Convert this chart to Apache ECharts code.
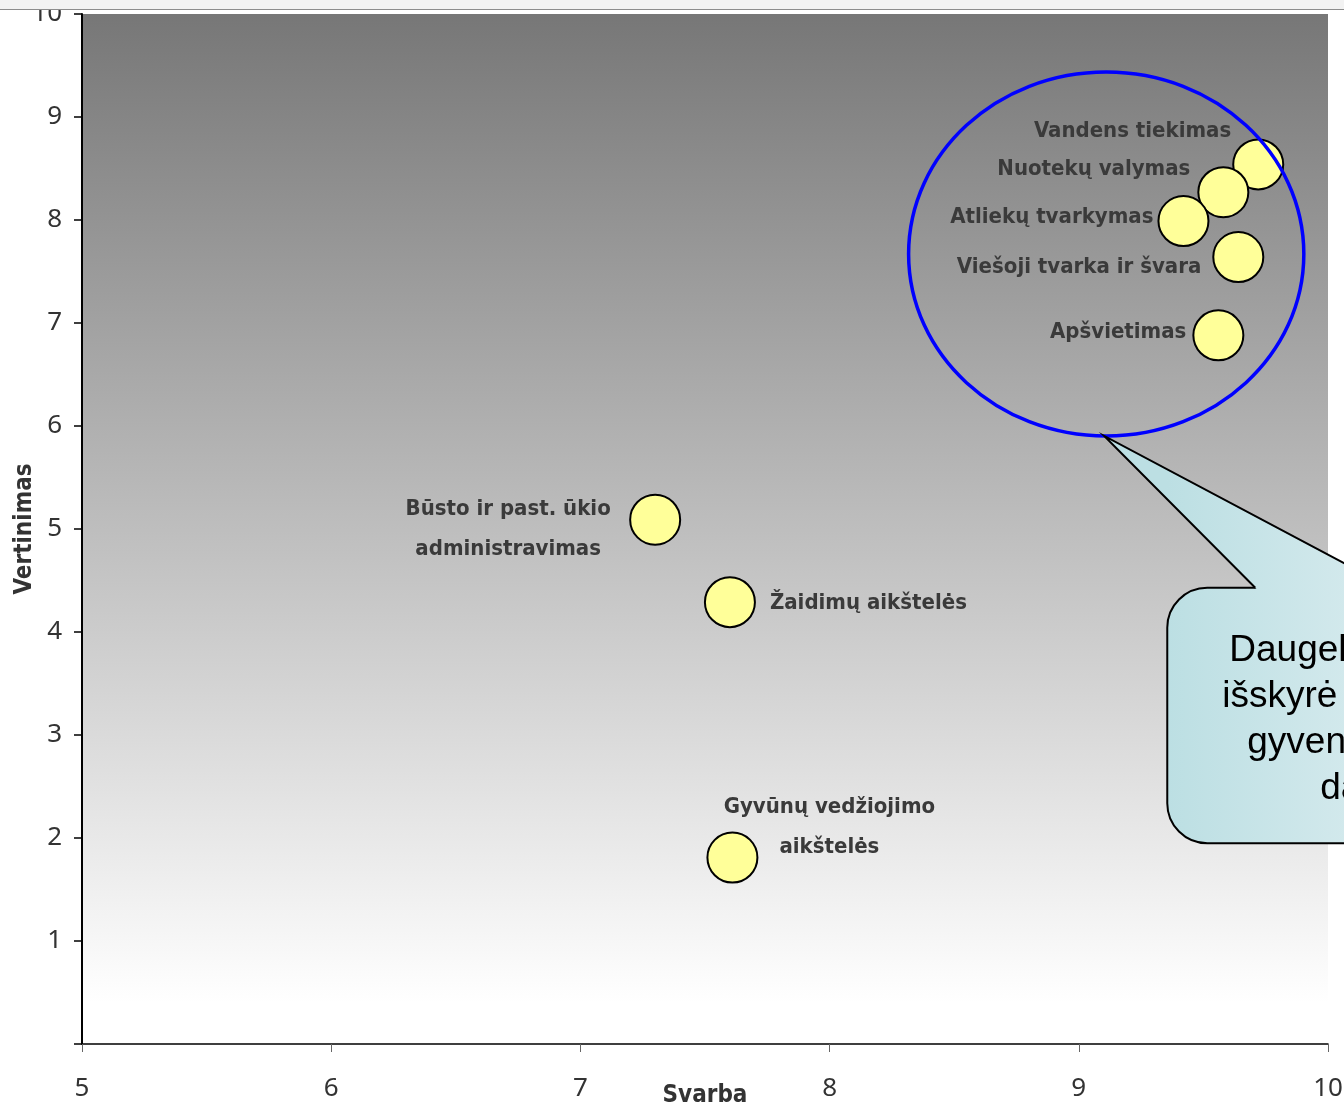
<!DOCTYPE html>
<html>
<head>
<meta charset="utf-8">
<script src="https://cdn.jsdelivr.net/npm/echarts@6/dist/echarts.min.js"></script>
<style>
html,body{margin:0;padding:0;background:#fff;}
#chart{width:1344px;height:1109px;}
</style>
</head>
<body>
<div id="chart"></div>
<script>
// ---- data ----
const names = ['Vandens tiekimas','Nuotekų valymas','Atliekų tvarkymas','Viešoji tvarka ir švara','Apšvietimas','Būsto ir past. ūkio\nadministravimas','Žaidimų aikštelės','Gyvūnų vedžiojimo\naikštelės'];
const svarba = [9.72, 9.58, 9.42, 9.64, 9.56, 7.30, 7.60, 7.61];
const vertinimas = [8.54, 8.27, 7.99, 7.64, 6.88, 5.09, 4.29, 1.81];
const xTicks = [5, 6, 7, 8, 9, 10];
const yTicks = [0, 1, 2, 3, 4, 5, 6, 7, 8, 9, 10];
const calloutLines = ['Daugelis gyventojų', 'išskyrė šias sritis', 'gyvenamosios aplinkos', 'dalis'];

// label placement (style only)
const labelLayout = [
  {align:'right', offset:[-27,-33]},
  {align:'right', offset:[-33,-23]},
  {align:'right', offset:[-30,-4]},
  {align:'right', offset:[-37,10]},
  {align:'right', offset:[-32,-3]},
  {align:'center', offset:[-147,10]},
  {align:'left', offset:[40,1]},
  {align:'center', offset:[97,-30]}
];

const labelFont = 'DejaVu Sans Condensed, DejaVu Sans, sans-serif';
const data = names.map((n, i) => ({
  name: n,
  value: [svarba[i], vertinimas[i]],
  label: {
    show: true, position: 'inside', formatter: n,
    align: labelLayout[i].align, verticalAlign: 'middle',
    offset: labelLayout[i].offset,
    fontFamily: labelFont, fontWeight: 'bold', fontSize: 22, color: '#3a3a3a', lineHeight: 40
  }
}));

const chart = echarts.init(document.getElementById('chart'), null, {renderer: 'canvas'});
chart.setOption({
  animation: false,
  backgroundColor: '#ffffff',
  grid: {
    left: 82, top: 14, right: 16, bottom: 65, show: true, borderWidth: 0,
    containLabel: false, outerBoundsMode: 'none',
    backgroundColor: new echarts.graphic.LinearGradient(0, 0, 0, 1, [
      {offset: 0, color: '#777777'},
      {offset: 0.96, color: '#ffffff'},
      {offset: 1, color: '#ffffff'}
    ])
  },
  xAxis: {
    type: 'value', min: xTicks[0], max: xTicks[xTicks.length - 1], interval: 1,
    name: 'Svarba', nameLocation: 'middle', nameGap: 40, nameMoveOverlap: false,
    nameTextStyle: {fontFamily: labelFont, fontWeight: 'bold', fontSize: 24, color: '#333'},
    axisLine: {show: true, onZero: false, lineStyle: {color: '#000', width: 1.5}},
    axisTick: {show: true, length: 8, lineStyle: {color: '#666', width: 1}},
    axisLabel: {fontFamily: 'Noto Sans', fontSize: 26, color: '#333', margin: 32},
    splitLine: {show: false}
  },
  yAxis: {
    type: 'value', min: yTicks[0], max: yTicks[yTicks.length - 1], interval: 1,
    name: 'Vertinimas', nameLocation: 'middle', nameGap: 45, nameMoveOverlap: false,
    nameTextStyle: {fontFamily: labelFont, fontWeight: 'bold', fontSize: 24, color: '#333'},
    axisLine: {show: true, onZero: false, lineStyle: {color: '#000', width: 2}},
    axisTick: {show: true, length: 8, lineStyle: {color: '#000', width: 1.5}},
    axisLabel: {fontFamily: 'Noto Sans', fontSize: 26, color: '#333', margin: 20,
      formatter: v => (v === 0 ? '' : String(v))},
    splitLine: {show: false}
  },
  series: [{
    type: 'scatter',
    symbol: 'circle', symbolSize: 50,
    itemStyle: {color: '#ffff99', borderColor: '#000', borderWidth: 2, opacity: 1},
    z: 3,
    data: data
  }]
});

// ---- annotations (ellipse + callout) anchored to the data coordinate system ----
const toPx = p => chart.convertToPixel({gridIndex: 0}, p);
const c = toPx([9.11, 7.67]);
const pxPerX = toPx([10, 0])[0] - toPx([9, 0])[0];
const pxPerY = toPx([0, 0])[1] - toPx([0, 1])[1];
const rx = 0.793 * pxPerX, ry = 1.767 * pxPerY;
const tip = [c[0] - 2, c[1] + ry];
const boxTop = toPx([0, 4.43])[1];
const boxBottom = toPx([0, 1.95])[1];
const boxLeft = toPx([9.355, 0])[0];
const fillGrad = new echarts.graphic.LinearGradient(boxLeft, 0, boxLeft + 260, 0, [
  {offset: 0, color: '#bcdfe3'},
  {offset: 1, color: '#dcedf0'}
], true);
const b1 = [boxLeft + 88, boxTop];
const b2 = [boxLeft + 223, boxTop];
const lineStarts = [boxLeft + 62, boxLeft + 55, boxLeft + 80, boxLeft + 153];

const graphics = [
  {type: 'rect', z: 100, shape: {x: 0, y: 0, width: 1344, height: 9}, style: {fill: '#f2f2f2'}},
  {type: 'line', z: 100, shape: {x1: 0, y1: 9.5, x2: 1344, y2: 9.5}, style: {stroke: '#8c8c8c', lineWidth: 1}},
  {type: 'ellipse', z: 50, shape: {cx: c[0], cy: c[1], rx: rx, ry: ry}, style: {fill: null, stroke: '#0000ff', lineWidth: 3.5}},
  {type: 'rect', z: 60, shape: {x: boxLeft, y: boxTop, width: 420, height: boxBottom - boxTop, r: 40},
    style: {fill: fillGrad, stroke: '#000', lineWidth: 2}},
  {type: 'polygon', z: 61, shape: {points: [tip, [b1[0] + 2, b1[1] + 2], [b2[0] + 2, b2[1] + 2]]},
    style: {fill: fillGrad, stroke: null}},
  {type: 'polyline', z: 62, shape: {points: [b1, tip, b2]}, style: {stroke: '#000', lineWidth: 2, fill: null}}
];
calloutLines.forEach((t, i) => {
  graphics.push({type: 'text', z: 63, x: lineStarts[i], y: boxTop + 63 + i * 46,
    style: {text: t, fill: '#000', font: '37px "Liberation Sans", Arial, sans-serif', textAlign: 'left', textVerticalAlign: 'middle'}});
});
chart.setOption({graphic: {elements: graphics}});
</script>
</body>
</html>
